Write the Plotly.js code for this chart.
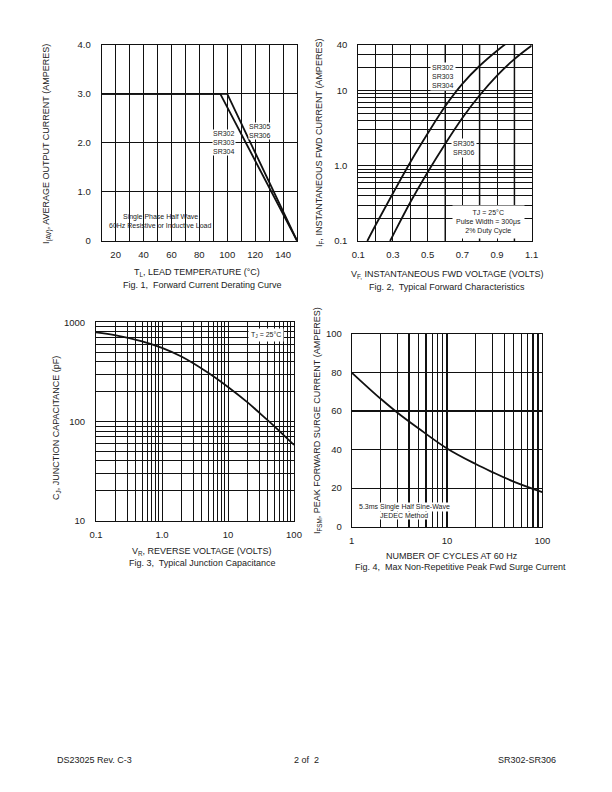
<!DOCTYPE html>
<html>
<head>
<meta charset="utf-8">
<script src="https://cdn.plot.ly/plotly-3.0.1.min.js"></script>
<style>html,body{margin:0;padding:0;background:#fff;}#chart{width:612px;height:792px;}</style>
</head>
<body>
<div id="chart"></div>
<script>
// ---------- DATA ----------
// Fig. 1 Forward current derating
const fig1TempA = [10, 95, 150];      // SR302-SR304
const fig1CurrA = [3.0, 3.0, 0];
const fig1TempB = [10, 100, 150];     // SR305-SR306
const fig1CurrB = [3.0, 3.0, 0];
const fig1XTicks = [20, 40, 60, 80, 100, 120, 140];
const fig1XLabels = ['20', '40', '60', '80', '100', '120', '140'];
const fig1XMinor = [10, 30, 50, 70, 90, 110, 130, 150];
const fig1YTicks = [0, 1, 2, 3, 4];
const fig1YLabels = ['0', '1.0', '2.0', '3.0', '4.0'];

// Fig. 2 Typical forward characteristics
const fig2VA = [0.152, 0.2, 0.3, 0.4, 0.5, 0.6, 0.7, 0.8, 0.9, 0.96];   // SR302-SR304
const fig2IA = [0.1, 0.163, 0.43, 1.11, 2.67, 6.1, 12.2, 21.2, 33.6, 43];
const fig2VB = [0.283, 0.3, 0.4, 0.5, 0.6, 0.7, 0.8, 0.9, 1.0, 1.1];    // SR305-SR306
const fig2IB = [0.1, 0.119, 0.327, 0.82, 1.93, 4.3, 8.6, 15.7, 26, 39.4];
const fig2XTicks = [0.1, 0.3, 0.5, 0.7, 0.9, 1.1];
const fig2XLabels = ['0.1', '0.3', '0.5', '0.7', '0.9', '1.1'];
const fig2XMinor = [0.2, 0.4, 0.6, 0.8, 1.0];
const fig2YTicks = [0.1, 1, 10, 40];
const fig2YLabels = ['0.1', '1.0', '10', '40'];
const fig2YMinor = [0.2, 0.3, 0.4, 0.5, 0.6, 0.7, 0.8, 0.9, 2, 3, 4, 5, 6, 7, 8, 9, 20, 30];
const fig2GrayV = [0.6, 0.8, 1.0];

// Fig. 3 Typical junction capacitance
const fig3V = [0.1, 0.2, 0.5, 1, 2, 5, 10, 20, 30, 50, 100];
const fig3C = [790, 738, 643, 552, 449, 310, 223, 155, 122, 90, 58];
const fig3XTicks = [0.1, 1, 10, 100];
const fig3XLabels = ['0.1', '1.0', '10', '100'];
const fig3XMinor = [0.2, 0.3, 0.4, 0.5, 0.6, 0.7, 0.8, 0.9, 2, 3, 4, 5, 6, 7, 8, 9, 20, 30, 40, 50, 60, 70, 80, 90];
const fig3YTicks = [10, 100, 1000];
const fig3YLabels = ['10', '100', '1000'];
const fig3YMinor = [20, 30, 40, 50, 60, 70, 80, 90, 200, 300, 400, 500, 600, 700, 800, 900];

// Fig. 4 Max non-repetitive peak forward surge current
const fig4N = [1, 2, 3, 5, 10, 20, 30, 50, 100];
const fig4I = [80, 66.5, 59.3, 51.1, 40.6, 32.5, 28.3, 23.4, 17.9];
const fig4XTicks = [1, 10, 100];
const fig4XLabels = ['1', '10', '100'];
const fig4XMinor = [2, 3, 4, 5, 6, 7, 8, 9, 20, 30, 40, 50, 60, 70, 80, 90];
const fig4YTicks = [0, 20, 40, 60, 80, 100];
const fig4YLabels = ['0', '20', '40', '60', '80', '100'];

// ---------- LAYOUT HELPERS ----------
const W = 612, H = 792;
const px = x => x / W;
const py = y => 1 - y / H;
const FONT = 'Liberation Sans, Arial, sans-serif';
const TXT = '#222';

function axis(opts, minorVals, gw) {
  const a = Object.assign({
    showline: true, mirror: true, linecolor: '#111', linewidth: 1,
    showgrid: true, gridcolor: '#111', gridwidth: gw || 1,
    zeroline: false, ticks: '', fixedrange: true,
    tickmode: 'array',
    tickfont: {family: FONT, size: 9.5, color: TXT}
  }, opts);
  if (minorVals) {
    a.minor = {tickmode: 'array', tickvals: minorVals, showgrid: true,
               gridcolor: '#111', gridwidth: gw || 1, ticks: ''};
  }
  return a;
}

const curve = {color: '#111', width: 1.8};
const smooth = Object.assign({shape: 'spline', smoothing: 1}, curve);

const traces = [
  {x: fig1TempA, y: fig1CurrA, xaxis: 'x', yaxis: 'y', mode: 'lines', line: curve, name: 'SR302-SR304'},
  {x: fig1TempB, y: fig1CurrB, xaxis: 'x', yaxis: 'y', mode: 'lines', line: curve, name: 'SR305-SR306'},
  {x: fig2VA, y: fig2IA, xaxis: 'x2', yaxis: 'y2', mode: 'lines', line: smooth, name: 'SR302-SR304'},
  {x: fig2VB, y: fig2IB, xaxis: 'x2', yaxis: 'y2', mode: 'lines', line: smooth, name: 'SR305-SR306'},
  {x: fig3V, y: fig3C, xaxis: 'x3', yaxis: 'y3', mode: 'lines', line: smooth, name: 'Cj'},
  {x: fig4N, y: fig4I, xaxis: 'x4', yaxis: 'y4', mode: 'lines', line: smooth, name: 'IFSM'}
];

const shapes = fig2GrayV.map(v => ({
  type: 'line', xref: 'x2', yref: 'y2 domain', x0: v, x1: v, y0: 0, y1: 1,
  line: {color: '#8a8a8a', width: 2}, layer: 'below'
}));

function ann(x, y, text, o) {
  return Object.assign({
    xref: 'paper', yref: 'paper', x: px(x), y: py(y), text: text, showarrow: false,
    xanchor: 'center', yanchor: 'middle',
    font: {family: FONT, size: 9, color: TXT}
  }, o || {});
}
const small = {family: FONT, size: 7, color: TXT};

const annotations = [
  // Fig 1
  ann(197, 272, 'T<sub>L</sub>, LEAD TEMPERATURE (°C)'),
  ann(202, 285, 'Fig. 1,&nbsp; Forward Current Derating Curve'),
  ann(47, 144, 'I<sub>(AV)</sub>, AVERAGE OUTPUT CURRENT (AMPERES)', {textangle: -90}),
  ann(160, 217, 'Single Phase Half Wave', {font: small}),
  ann(160, 225.5, '60Hz Resistive or Inductive Load', {font: small}),
  ann(224, 142, 'SR302<br>SR303<br>SR304', {font: small, bgcolor: '#fff', borderpad: 0}),
  ann(260, 130.5, 'SR305<br>SR306', {font: small, bgcolor: '#fff', borderpad: 0}),
  // Fig 2
  ann(447, 274, 'V<sub>F,</sub> INSTANTANEOUS FWD VOLTAGE (VOLTS)'),
  ann(447, 287, 'Fig. 2,&nbsp; Typical Forward Characteristics'),
  ann(319, 143, 'I<sub>F</sub>, INSTANTANEOUS FWD CURRENT (AMPERES)', {textangle: -90}),
  ann(442.5, 77, 'SR302<br>SR303<br>SR304', {font: small, bgcolor: '#fff', borderpad: 1}),
  ann(464, 148, 'SR305<br>SR306', {font: small, bgcolor: '#fff', borderpad: 1}),
  ann(488, 222, 'TJ = 25°C<br>Pulse Width = 300μs<br>2% Duty Cycle', {font: small, bgcolor: '#fff', borderpad: 3}),
  // Fig 3
  ann(202, 551, 'V<sub>R</sub>, REVERSE VOLTAGE (VOLTS)'),
  ann(202, 563, 'Fig. 3,&nbsp; Typical Junction Capacitance'),
  ann(56, 428, 'C<sub>J</sub>, JUNCTION CAPACITANCE (pF)', {textangle: -90}),
  ann(266, 334.5, 'T<sub>J</sub> = 25°C', {font: small, bgcolor: '#fff', borderpad: 2}),
  // Fig 4
  ann(452, 556, 'NUMBER OF CYCLES AT 60 Hz'),
  ann(460, 567, 'Fig. 4,&nbsp; Max Non-Repetitive Peak Fwd Surge Current'),
  ann(317, 421, 'I<sub>FSM</sub>, PEAK FORWARD SURGE CURRENT (AMPERES)', {textangle: -90}),
  ann(404, 507, '5.3ms Single Half Sine-Wave', {font: small, bgcolor: '#fff', borderpad: 0}),
  ann(404, 515, 'JEDEC Method', {font: small, bgcolor: '#fff', borderpad: 0}),
  // Footer
  ann(55, 760, 'DS23025 Rev. C-3', {xanchor: 'left'}),
  ann(306, 760, '2 of&nbsp; 2'),
  ann(558, 760, 'SR302-SR306', {xanchor: 'right'})
];

const layout = {
  width: W, height: H,
  margin: {l: 0, r: 0, t: 0, b: 0},
  paper_bgcolor: '#fff', plot_bgcolor: '#fff',
  showlegend: false,
  font: {family: FONT, color: TXT},
  xaxis: axis({domain: [px(101.7), px(297)], anchor: 'y', range: [10, 150],
    tickvals: fig1XTicks, ticktext: fig1XLabels, ticklabelstandoff: 5}, fig1XMinor),
  yaxis: axis({domain: [py(240.7), py(45)], anchor: 'x', range: [0, 4],
    tickvals: fig1YTicks, ticktext: fig1YLabels, ticklabelstandoff: 8}),
  xaxis2: axis({domain: [px(358.3), px(531.7)], anchor: 'y2', range: [0.1, 1.1],
    tickvals: fig2XTicks, ticktext: fig2XLabels, ticklabelstandoff: 5}, fig2XMinor),
  yaxis2: axis({domain: [py(241), py(45)], anchor: 'x2', type: 'log', range: [-1, Math.log10(40)],
    tickvals: fig2YTicks, ticktext: fig2YLabels, ticklabelstandoff: 8}, fig2YMinor),
  xaxis3: axis({domain: [px(96), px(294)], anchor: 'y3', type: 'log', range: [-1, 2],
    tickvals: fig3XTicks, ticktext: fig3XLabels, ticklabelstandoff: 5}, fig3XMinor),
  yaxis3: axis({domain: [py(520.7), py(322.3)], anchor: 'x3', type: 'log', range: [1, 3],
    tickvals: fig3YTicks, ticktext: fig3YLabels, ticklabelstandoff: 8}, fig3YMinor),
  xaxis4: axis({domain: [px(351.7), px(542.3)], anchor: 'y4', type: 'log', range: [0, 2],
    tickvals: fig4XTicks, ticktext: fig4XLabels, ticklabelstandoff: 5}, fig4XMinor, 1.3),
  yaxis4: axis({domain: [py(526.7), py(334)], anchor: 'x4', range: [0, 100],
    tickvals: fig4YTicks, ticktext: fig4YLabels, ticklabelstandoff: 7}, null, 1.3),
  shapes: shapes,
  annotations: annotations
};

Plotly.newPlot('chart', traces, layout, {staticPlot: true, displayModeBar: false});
</script>
</body>
</html>
